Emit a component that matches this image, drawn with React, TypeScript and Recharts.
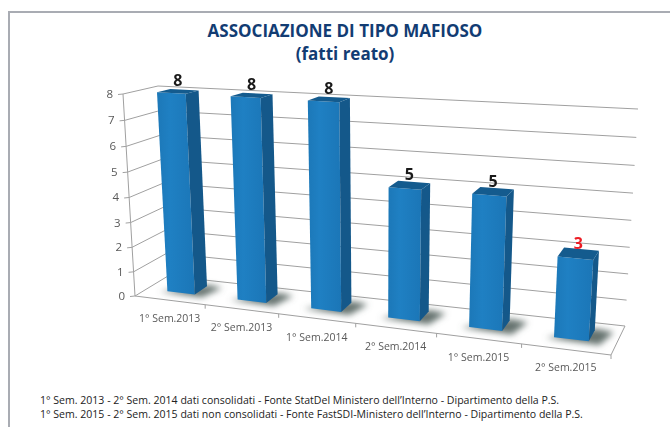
import { BarChart, Bar, XAxis, YAxis, CartesianGrid, LabelList } from "recharts";

const CATEGORIES = ["1° Sem.2013", "2° Sem.2013", "1° Sem.2014", "2° Sem.2014", "1° Sem.2015", "2° Sem.2015"];
const VALUES = [8, 8, 8, 5, 5, 3];
const Y_TICKS = [0, 1, 2, 3, 4, 5, 6, 7, 8];
const TITLE_LINES = ["ASSOCIAZIONE DI TIPO MAFIOSO", "(fatti reato)"];
const FOOTNOTES = [
  "1° Sem. 2013 - 2° Sem. 2014 dati consolidati - Fonte StatDel Ministero dell’Interno - Dipartimento della P.S.",
  "1° Sem. 2015 - 2° Sem. 2015 dati non consolidati - Fonte FastSDI-Ministero dell’Interno - Dipartimento della P.S.",
];
const data = CATEGORIES.map((label, i) => ({ label, value: VALUES[i] }));

const WIDTH = 670;
const HEIGHT = 427;
const font = "'Open Sans', sans-serif";

// flat plot rectangle that recharts lays out; everything is then warped onto the 3D box
const MARGIN = { top: 90, right: 40, bottom: 60, left: 100 };
const Y_AXIS_W = 30;
const X_AXIS_H = 30;
const PLOT_L = MARGIN.left + Y_AXIS_W;
const PLOT_T = MARGIN.top;
const PLOT_W = WIDTH - PLOT_L - MARGIN.right;
const PLOT_H = HEIGHT - PLOT_T - MARGIN.bottom - X_AXIS_H;

type Pt = [number, number];
// corners: bottom-left, bottom-right, top-right, top-left
const FRONT: Pt[] = [[135, 296], [611, 355], [625, 123], [123, 94]];
const BACK: Pt[] = [[168, 276], [625, 326], [638, 109], [158, 86]];
const BAR_FRONT = 0.36;
const BAR_BACK = 0.75;

function project(u: number, v: number, d: number): Pt {
  const q = FRONT.map((p, i) => [p[0] + (BACK[i][0] - p[0]) * d, p[1] + (BACK[i][1] - p[1]) * d]);
  const [[x0, y0], [x1, y1], [x2, y2], [x3, y3]] = q;
  const dx1 = x1 - x2, dx2 = x3 - x2, sx = x0 - x1 + x2 - x3;
  const dy1 = y1 - y2, dy2 = y3 - y2, sy = y0 - y1 + y2 - y3;
  const den = dx1 * dy2 - dx2 * dy1;
  const g = (sx * dy2 - dx2 * sy) / den;
  const h = (dx1 * sy - sx * dy1) / den;
  const w = g * u + h * v + 1;
  return [
    ((x1 - x0 + g * x1) * u + (x3 - x0 + h * x3) * v + x0) / w,
    ((y1 - y0 + g * y1) * u + (y3 - y0 + h * y3) * v + y0) / w,
  ];
}

const toU = (px: number) => (px - PLOT_L) / PLOT_W;
const toV = (py: number) => (PLOT_T + PLOT_H - py) / PLOT_H;
const pts = (list: Pt[]) => list.map((p) => `${p[0].toFixed(1)},${p[1].toFixed(1)}`).join(" ");

const GRID = "#a0a0a0";

function GridLine(props: any) {
  const v = toV(props.y1);
  return (
    <polyline
      key={props.key}
      points={pts([project(0, v, 0), project(0, v, 1), project(1, v, 1)])}
      fill="none"
      stroke={GRID}
      strokeWidth={1}
    />
  );
}

function YTick(props: any) {
  const v = toV(props.y);
  const [x, y] = project(0, v, 0);
  return (
    <g>
      <line x1={x - 5} y1={y + 0.5} x2={x} y2={y} stroke={GRID} />
      <text x={x - 10} y={y + 4} textAnchor="end" fontFamily={font} fontSize={11.5} fill="#595959">
        {props.payload.value}
      </text>
    </g>
  );
}

function XTick(props: any) {
  const u = toU(props.x);
  const step = 1 / CATEGORIES.length;
  const [x, y] = project(u, 0, 0);
  const [tx, ty] = project(u + step / 2, 0, 0);
  return (
    <g>
      <line x1={tx} y1={ty} x2={tx} y2={ty + 4} stroke={GRID} />
      <text x={x} y={y + 22} textAnchor="middle" fontFamily={font} fontSize={10.5} fill="#595959">
        {props.payload.value}
      </text>
    </g>
  );
}

function Bar3D(props: any) {
  const { x, y, width, height } = props;
  const u0 = toU(x);
  const u1 = toU(x + width);
  const v = toV(y);
  const v0 = toV(y + height);
  const fbl = project(u0, v0, BAR_FRONT);
  const fbr = project(u1, v0, BAR_FRONT);
  const ftl = project(u0, v, BAR_FRONT);
  const ftr = project(u1, v, BAR_FRONT);
  const bbr = project(u1, v0, BAR_BACK);
  const btr = project(u1, v, BAR_BACK);
  const btl = project(u0, v, BAR_BACK);
  const shadow: Pt[] = [
    project(u0 - 0.014, v0, BAR_FRONT - 0.05),
    project(u1 + 0.022, v0, BAR_FRONT - 0.08),
    project(u1 + 0.036, v0, BAR_BACK),
    project(u1, v0, BAR_BACK + 0.06),
  ];
  return (
    <g>
      <polygon points={pts(shadow)} fill="#66736f" filter="url(#floorShadow)" />
      <polygon points={pts([fbl, fbr, ftr, ftl])} fill="url(#barFront)" />
      <polygon points={pts([fbr, bbr, btr, ftr])} fill="#14588a" />
      <polygon points={pts([ftl, ftr, btr, btl])} fill="#145b8e" />
    </g>
  );
}

function ValueLabel(props: any) {
  const { x, y, width, value, index } = props;
  const [tx, ty] = project(toU(x + width / 2), toV(y), (BAR_FRONT + BAR_BACK) / 2);
  return (
    <text
      x={tx}
      y={ty - 5}
      textAnchor="middle"
      fontFamily={font}
      fontSize={16}
      fontWeight={700}
      fill={index === VALUES.length - 1 ? "#ec1c24" : "#1a1a1a"}
    >
      {value}
    </text>
  );
}

export default function App() {
  return (
    <div style={{ position: "fixed", left: 0, top: 0, width: WIDTH, height: HEIGHT, background: "#fff", overflow: "hidden" }}>
      {/* frame only has top and left edges in the crop */}
      <div style={{ position: "absolute", left: 8, top: 11, width: 662, height: 2, background: "#a9acb3" }} />
      <div style={{ position: "absolute", left: 8, top: 11, width: 2, height: 416, background: "#a9acb3" }} />
      <div
        style={{
          position: "absolute",
          left: 0,
          top: 19,
          width: 690,
          textAlign: "center",
          fontFamily: font,
          fontWeight: 700,
          fontSize: 17,
          lineHeight: "23px",
          color: "#123c73",
        }}
      >
        {TITLE_LINES.map((t) => (
          <div key={t}>{t}</div>
        ))}
      </div>
      <div style={{ position: "absolute", left: 0, top: 0, filter: "blur(0.35px)" }}>
        <BarChart width={WIDTH} height={HEIGHT} data={data} margin={MARGIN} barCategoryGap="30%">
          <defs>
            <linearGradient id="barFront" x1="0" y1="0" x2="1" y2="0">
              <stop offset="0" stopColor="#1c78b8" />
              <stop offset="0.35" stopColor="#1f80c3" />
              <stop offset="1" stopColor="#1b76b7" />
            </linearGradient>
            <filter id="floorShadow" x="-30%" y="-60%" width="160%" height="220%">
              <feGaussianBlur stdDeviation="3" />
            </filter>
          </defs>
          <CartesianGrid vertical={false} horizontal={GridLine} />
          <XAxis dataKey="label" height={X_AXIS_H} axisLine={false} tickLine={false} interval={0} tick={XTick} />
          <YAxis width={Y_AXIS_W} domain={[0, 8]} ticks={Y_TICKS} axisLine={false} tickLine={false} tick={YTick} />
          <Bar dataKey="value" shape={Bar3D} isAnimationActive={false}>
            <LabelList dataKey="value" content={ValueLabel} />
          </Bar>
        </BarChart>
      </div>
      <svg style={{ position: "absolute", left: 0, top: 0, pointerEvents: "none" }} width={WIDTH} height={HEIGHT}>
        <polyline points={pts([project(0, 1, 0), project(0, 0, 0), project(1, 0, 0), project(1, 0, 1)])} fill="none" stroke={GRID} />
      </svg>
      <div
        style={{
          position: "absolute",
          left: 40,
          top: 394,
          fontFamily: font,
          fontSize: 10.55,
          lineHeight: "13.5px",
          color: "#222",
          whiteSpace: "nowrap",
        }}
      >
        {FOOTNOTES.map((t) => (
          <div key={t}>{t}</div>
        ))}
      </div>
    </div>
  );
}
